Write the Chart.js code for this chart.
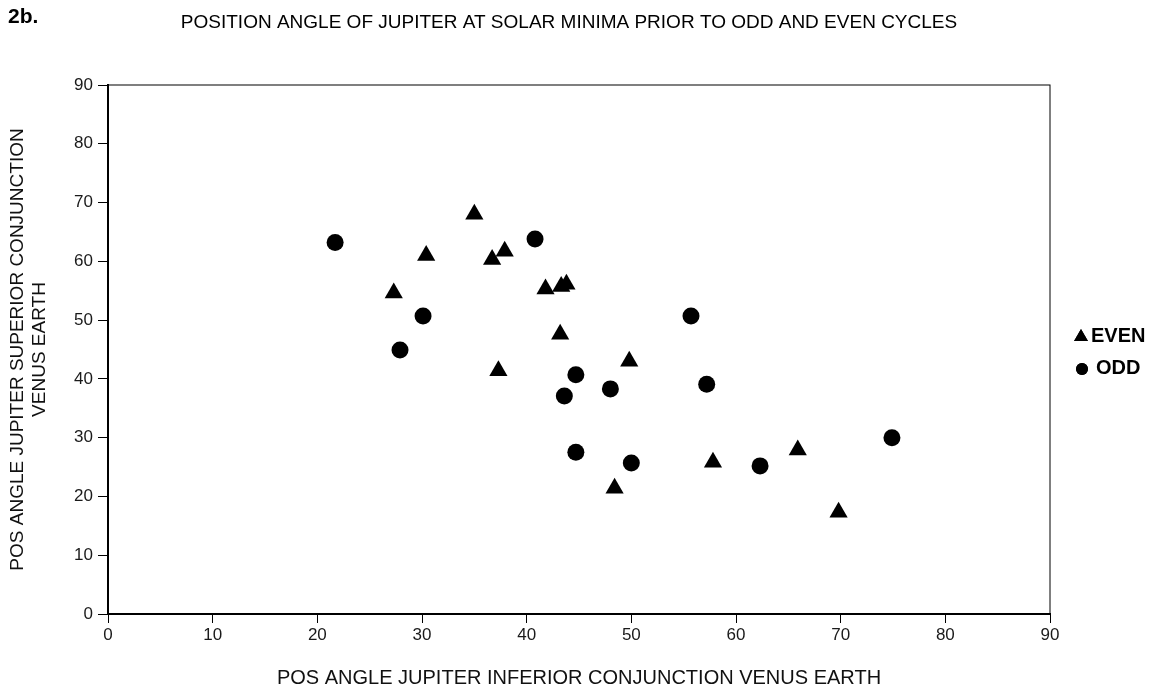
<!DOCTYPE html>
<html>
<head>
<meta charset="utf-8">
<script src="https://cdn.jsdelivr.net/npm/chart.js@4.4.0/dist/chart.umd.min.js"></script>
<style>
  html, body { margin: 0; padding: 0; background: #fff; }
  #wrap { width: 1171px; height: 691px; position: relative; }
</style>
</head>
<body>
<div id="wrap"><canvas id="chart" width="1171" height="691"></canvas></div>
<script>
// values (x = inferior conjunction angle, y = superior conjunction angle)
const evenX = [35.0, 30.4, 27.3, 36.7, 37.9, 41.8, 43.3, 43.8, 43.2, 37.3, 49.8, 48.4, 57.8, 65.9, 69.8];
const evenY = [68.0, 61.0, 54.6, 60.3, 61.7, 55.3, 55.7, 56.1, 47.6, 41.4, 43.0, 21.4, 25.8, 27.9, 17.3];
const oddX = [21.7, 40.8, 30.1, 27.9, 55.7, 44.7, 43.6, 48.0, 57.2, 44.7, 50.0, 62.3, 74.9];
const oddY = [63.2, 63.8, 50.7, 44.9, 50.7, 40.7, 37.1, 38.3, 39.1, 27.5, 25.7, 25.2, 30.0];
const seriesNames = ['EVEN', 'ODD'];
const xTicks = [0, 10, 20, 30, 40, 50, 60, 70, 80, 90];
const yTicks = [0, 10, 20, 30, 40, 50, 60, 70, 80, 90];

const FONT = '"Liberation Sans", Arial, sans-serif';

function toPoints(xs, ys) {
    return xs.map((x, i) => ({ x: x, y: ys[i] }));
}

// title, figure tag, plot frame and legend
const decorations = {
    id: 'decorations',
    beforeDatasetsDraw(chart) {
        const { ctx, chartArea } = chart;
        ctx.save();
        ctx.strokeStyle = '#000';
        ctx.lineWidth = 1;
        ctx.strokeRect(chartArea.left, chartArea.top, chartArea.right - chartArea.left, chartArea.bottom - chartArea.top);
        ctx.restore();
    },
    afterDraw(chart) {
        const { ctx } = chart;
        ctx.save();
        ctx.fillStyle = '#000';
        ctx.textBaseline = 'middle';
        ctx.font = 'bold 21px ' + FONT;
        ctx.textAlign = 'left';
        ctx.fillText('2b.', 8, 17);
        ctx.font = '19px ' + FONT;
        ctx.textAlign = 'center';
        ctx.fillText('POSITION ANGLE OF JUPITER AT SOLAR MINIMA PRIOR TO ODD AND EVEN CYCLES', 569, 23);

        // legend
        const items = [
            { label: seriesNames[0], style: 'triangle', r: 8, x: 1081, y: 336, tx: 1091 },
            { label: seriesNames[1], style: 'circle', r: 6, x: 1082, y: 368, tx: 1096 }
        ];
        items.forEach(it => {
            Chart.helpers.drawPoint(ctx, { pointStyle: it.style, radius: it.r, borderWidth: 0 }, it.x, it.y + 1);
            ctx.fillStyle = '#000';
            ctx.fill();
            ctx.font = 'bold 20px ' + FONT;
            ctx.textAlign = 'left';
            ctx.fillText(it.label, it.tx, it.y);
        });
        ctx.restore();
    }
};

new Chart(document.getElementById('chart'), {
    type: 'scatter',
    data: {
        datasets: [
            {
                label: seriesNames[0],
                data: toPoints(evenX, evenY),
                pointStyle: 'triangle',
                pointRadius: 10.5,
                pointHoverRadius: 10.5,
                backgroundColor: '#000',
                borderColor: '#000',
                borderWidth: 0
            },
            {
                label: seriesNames[1],
                data: toPoints(oddX, oddY),
                pointStyle: 'circle',
                pointRadius: 8.5,
                pointHoverRadius: 8.5,
                backgroundColor: '#000',
                borderColor: '#000',
                borderWidth: 0
            }
        ]
    },
    options: {
        responsive: false,
        animation: false,
        layout: { padding: { left: 0, right: 121, top: 85, bottom: 0 } },
        plugins: {
            legend: { display: false },
            tooltip: { enabled: false },
            title: { display: false }
        },
        scales: {
            x: {
                type: 'linear',
                min: 0,
                max: 90,
                afterBuildTicks: axis => { axis.ticks = xTicks.map(v => ({ value: v })); },
                afterFit: axis => { axis.height = 77; },
                border: { display: true, color: '#000', width: 2 },
                grid: { drawOnChartArea: false, drawTicks: true, tickLength: 9, color: '#000' },
                ticks: { color: '#1a1a1a', font: { family: FONT, size: 17 }, padding: 2 },
                title: {
                    display: true,
                    text: 'POS ANGLE JUPITER INFERIOR CONJUNCTION VENUS EARTH',
                    color: '#111',
                    font: { family: FONT, size: 20 },
                    padding: { top: 10, bottom: 1 }
                }
            },
            y: {
                type: 'linear',
                min: 0,
                max: 90,
                afterBuildTicks: axis => { axis.ticks = yTicks.map(v => ({ value: v })); },
                afterFit: axis => { axis.width = 108; },
                border: { display: true, color: '#000', width: 2 },
                grid: { drawOnChartArea: false, drawTicks: true, tickLength: 10, color: '#000' },
                ticks: { color: '#1a1a1a', font: { family: FONT, size: 17 }, padding: 5 },
                title: {
                    display: true,
                    text: ['POS ANGLE JUPITER SUPERIOR CONJUNCTION', 'VENUS EARTH'],
                    color: '#111',
                    font: { family: FONT, size: 19, lineHeight: 1.16 },
                    padding: { top: 7, bottom: 10 }
                }
            }
        }
    },
    plugins: [decorations]
});
</script>
</body>
</html>
